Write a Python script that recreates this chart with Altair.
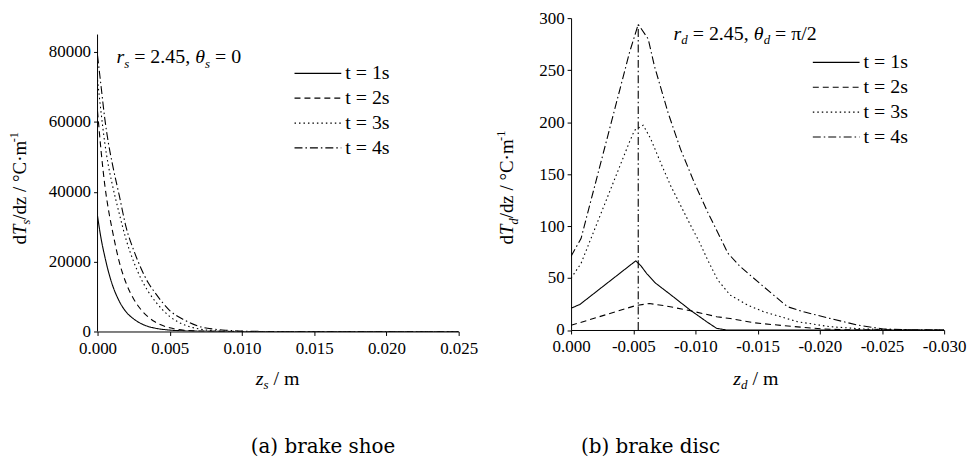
import altair as alt
import pandas as pd

FONT = "Liberation Serif"
CAP_FONT = "DejaVu Serif"

# ---------------- data: (a) brake shoe ----------------
shoe_z = [0.0, 0.00025, 0.0005, 0.00075, 0.001, 0.0015, 0.002, 0.0025, 0.003, 0.0035,
          0.004, 0.005, 0.006, 0.007, 0.008, 0.009, 0.010, 0.012, 0.015, 0.020, 0.025]
shoe_t1 = [33000, 26500, 21500, 17200, 13700, 8700, 5500, 3600, 2300, 1450,
           950, 400, 180, 80, 30, 10, 0, 0, 0, 0, 0]
shoe_t2 = [63000, 51500, 42000, 35000, 29500, 20000, 13600, 9300, 6300, 4200,
           2700, 1050, 350, 150, 60, 20, 0, 0, 0, 0, 0]
shoe_t3 = [72000, 62500, 54000, 47500, 42500, 33800, 26000, 20000, 15200, 11500,
           8600, 4300, 1900, 750, 250, 80, 20, 0, 0, 0, 0]
shoe_t4 = [79000, 70000, 61000, 54000, 48500, 39000, 29500, 23300, 18200, 14000,
           11000, 6000, 3300, 1500, 700, 330, 120, 0, 0, 0, 0]

# ---------------- data: (b) brake disc ----------------
disc_t1_z = [0.0, -0.0007, -0.0052, -0.0056, -0.0061, -0.0068, -0.008, -0.0096, -0.0109, -0.0117, -0.0125, -0.03]
disc_t1_v = [21, 24.5, 66.5, 62, 54, 45, 34, 19, 8, 1.6, 0, 0]
disc_t2_z = [0.0, -0.0052, -0.0063, -0.0077, -0.0096, -0.0117, -0.0128, -0.0147, -0.0155, -0.0182, -0.0203, -0.022, -0.03]
disc_t2_v = [4.5, 23.5, 25.5, 23, 18.5, 12.8, 11, 7, 6, 3, 1, 0.2, 0]
disc_t3_z = [0.0, -0.0008, -0.0047, -0.0051, -0.0058, -0.0064, -0.0072, -0.008, -0.0088, -0.0096, -0.0103,
             -0.011, -0.0118, -0.0128, -0.0142, -0.0155, -0.0182, -0.0208, -0.0235, -0.027, -0.03]
disc_t3_v = [50, 64, 181, 192, 197, 184, 161, 139, 120, 101, 85,
             67, 48, 33.5, 24, 17.5, 8, 3.2, 1, 0, 0]
disc_t4_z = [0.0, -0.0008, -0.0047, -0.0054, -0.0062, -0.0067, -0.0078, -0.0088, -0.0099, -0.011, -0.0123,
             -0.0126, -0.0136, -0.0155, -0.0174, -0.0187, -0.0208, -0.023, -0.0251, -0.028, -0.03]
disc_t4_v = [71, 88, 267, 294, 280, 254, 209, 174, 142, 113, 81.5,
             74, 61, 41.5, 22.4, 17.5, 11.2, 4.8, 1, 0, 0]
interface_z = [-0.0054, -0.0054]
interface_v = [0, 294]

series_names = ["t = 1s", "t = 2s", "t = 3s", "t = 4s"]
dash_styles = [[1, 0], [6, 4], [1.5, 3], [8, 3, 1.5, 3]]

shoe_x_ticks = [0.0, 0.0025, 0.005, 0.0075, 0.01, 0.0125, 0.015, 0.0175, 0.02, 0.0225, 0.025]
shoe_y_ticks = [0, 10000, 20000, 30000, 40000, 50000, 60000, 70000, 80000]
disc_x_ticks = [0.0, -0.0025, -0.005, -0.0075, -0.01, -0.0125, -0.015, -0.0175, -0.02, -0.0225, -0.025, -0.0275, -0.03]
disc_y_ticks = [0, 25, 50, 75, 100, 125, 150, 175, 200, 225, 250, 275, 300]

# ---------------- tables ----------------
shoe_df = pd.concat([
    pd.DataFrame({"z": shoe_z, "v": vals, "series": name})
    for name, vals in zip(series_names, [shoe_t1, shoe_t2, shoe_t3, shoe_t4])
])
disc_df = pd.concat([
    pd.DataFrame({"z": zz, "v": vv, "series": name})
    for name, zz, vv in zip(series_names,
                            [disc_t1_z, disc_t2_z, disc_t3_z, disc_t4_z],
                            [disc_t1_v, disc_t2_v, disc_t3_v, disc_t4_v])
])
iface_df = pd.DataFrame({"z": interface_z, "v": interface_v})
ONE = pd.DataFrame({"a": [0]})

# ---------------- rich text helper ----------------
REG = {c: 0.5 for c in "0123456789"}
REG.update({".": 0.25, ",": 0.25, " ": 0.25, "=": 0.564, "/": 0.278, "d": 0.5, "z": 0.444,
            "m": 0.778, "·": 0.25, "°": 0.4, "C": 0.667, "π": 0.55, "-": 0.333, "s": 0.389})
ITA = {"T": 0.556, "s": 0.389, "d": 0.5, "z": 0.389, "r": 0.389, "θ": 0.5, "t": 0.278, " ": 0.25}


def twidth(s, italic):
    tab = ITA if italic else REG
    return sum(tab.get(c, 0.5) for c in s)


def rich(pieces, x, y, size, angle=0):
    layers = []
    off = 0.0
    for txt, style in pieces:
        italic = style in ("i", "isub")
        small = style in ("isub", "sup")
        fs = size * (0.65 if small else 1.0)
        dy = 0.22 * size if style == "isub" else (-0.42 * size if style == "sup" else 0)
        lead = len(txt) - len(txt.lstrip(" "))
        trail = len(txt) - len(txt.rstrip(" "))
        core = txt.strip(" ")
        off += lead * 0.25 * fs
        layers.append(
            alt.Chart(ONE).mark_text(
                text=core, align="left", baseline="alphabetic", font=FONT, fontSize=fs,
                fontStyle="italic" if italic else "normal", color="black",
                angle=angle, dx=off, dy=dy,
            ).encode(x=alt.value(x), y=alt.value(y))
        )
        off += twidth(core, italic) * fs + trail * 0.25 * fs
    return layers


def caption(txt, x, y):
    return alt.Chart(ONE).mark_text(
        text=txt, align="left", baseline="alphabetic", font=CAP_FONT, fontSize=20, color="black"
    ).encode(x=alt.value(x), y=alt.value(y))


AX = dict(grid=False, domainColor="black", tickColor="black", labelColor="black",
          labelFont=FONT, labelFontSize=17, tickSize=4, title=None,
          labelFlush=False, labelOverlap=False, domainWidth=1, tickWidth=1)


def legend(x, y):
    return alt.Legend(title=None, orient="none", legendX=x, legendY=y, symbolType="stroke",
                      symbolSize=47 * 47, symbolStrokeWidth=1.2, symbolStrokeColor="black",
                      labelFont=FONT, labelFontSize=20, labelColor="black", rowPadding=5,
                      clipHeight=20, labelOffset=3, padding=0)


# ---------------- (a) brake shoe ----------------
W1, H1 = 363, 315
shoe_lines = alt.Chart(shoe_df).mark_line(color="black", strokeWidth=1.1, interpolate="monotone", clip=True).encode(
    x=alt.X("z:Q", scale=alt.Scale(domain=[0, 0.025], nice=False, zero=False),
            axis=alt.Axis(values=shoe_x_ticks, labelPadding=5,
                          labelExpr="round(datum.value*2000) % 10 == 0 ? format(datum.value, '.3f') : ''", **AX)),
    y=alt.Y("v:Q", scale=alt.Scale(domain=[0, 89700], nice=False),
            axis=alt.Axis(values=shoe_y_ticks, domain=False, labelPadding=3,
                          labelExpr="datum.value % 20000 == 0 ? format(datum.value, 'd') : ''", **AX)),
    strokeDash=alt.StrokeDash("series:N", scale=alt.Scale(domain=series_names, range=dash_styles),
                              legend=legend(197, 45.5)),
)
shoe_axis_line = alt.Chart(pd.DataFrame({"z": [0.0], "lo": [0], "hi": [85000]})).mark_rule(
    color="black", strokeWidth=1).encode(x="z:Q", y="lo:Q", y2="hi:Q")

left = alt.layer(
    shoe_lines, shoe_axis_line,
    *rich([("r", "i"), ("s", "isub"), (" = 2.45, ", "n"), ("θ", "i"), ("s", "isub"), (" = 0", "n")], 19, 45.5, 20),
    *rich([("z", "i"), ("s", "isub"), (" / m", "n")], 159, 368.5, 20),
    *rich([("d", "n"), ("T", "i"), ("s", "isub"), ("/dz / °C·m", "n"), ("-1", "sup")], -72, 227.5, 19, angle=270),
    caption("(a) brake shoe", 154, 437.5),
).properties(width=W1, height=H1)

# ---------------- (b) brake disc ----------------
W2, H2 = 375, 313.5
disc_lines = alt.Chart(disc_df).mark_line(color="black", strokeWidth=1.1, clip=True).encode(
    x=alt.X("z:Q", scale=alt.Scale(domain=[0, -0.03], nice=False, zero=False),
            axis=alt.Axis(values=disc_x_ticks, labelPadding=5,
                          labelExpr="round(abs(datum.value)*2000) % 10 == 0 ? (datum.value < 0 ? '-' : '') + format(abs(datum.value), '.3f') : ''",
                          **AX)),
    y=alt.Y("v:Q", scale=alt.Scale(domain=[0, 300], nice=False),
            axis=alt.Axis(values=disc_y_ticks, labelPadding=3,
                          labelExpr="datum.value % 50 == 0 ? format(datum.value, 'd') : ''", **AX)),
    strokeDash=alt.StrokeDash("series:N", scale=alt.Scale(domain=series_names, range=dash_styles),
                              legend=legend(242, 34.5)),
)
iface = alt.Chart(iface_df).mark_line(color="black", strokeWidth=1.1, strokeDash=[8, 3, 1.5, 3]).encode(
    x="z:Q", y="v:Q")

right = alt.layer(
    disc_lines, iface,
    *rich([("r", "i"), ("d", "isub"), (" = 2.45, ", "n"), ("θ", "i"), ("d", "isub"), (" = π/2", "n")], 103, 21.5, 20),
    *rich([("z", "i"), ("d", "isub"), (" / m", "n")], 163, 368.5, 20),
    *rich([("d", "n"), ("T", "i"), ("d", "isub"), ("/dz / °C·m", "n"), ("-1", "sup")], -58, 227.5, 19, angle=270),
    caption("(b) brake disc", 10, 437.5),
).properties(width=W2, height=H2)

chart = alt.hconcat(left, right, spacing=17).resolve_scale(
    strokeDash="independent").resolve_legend(strokeDash="independent").properties(
    padding={"left": 0, "top": 0, "right": 5, "bottom": 0}, background="white"
).configure_view(stroke=None)

chart.save("out.html", embed_options={"renderer": "svg", "actions": False})
